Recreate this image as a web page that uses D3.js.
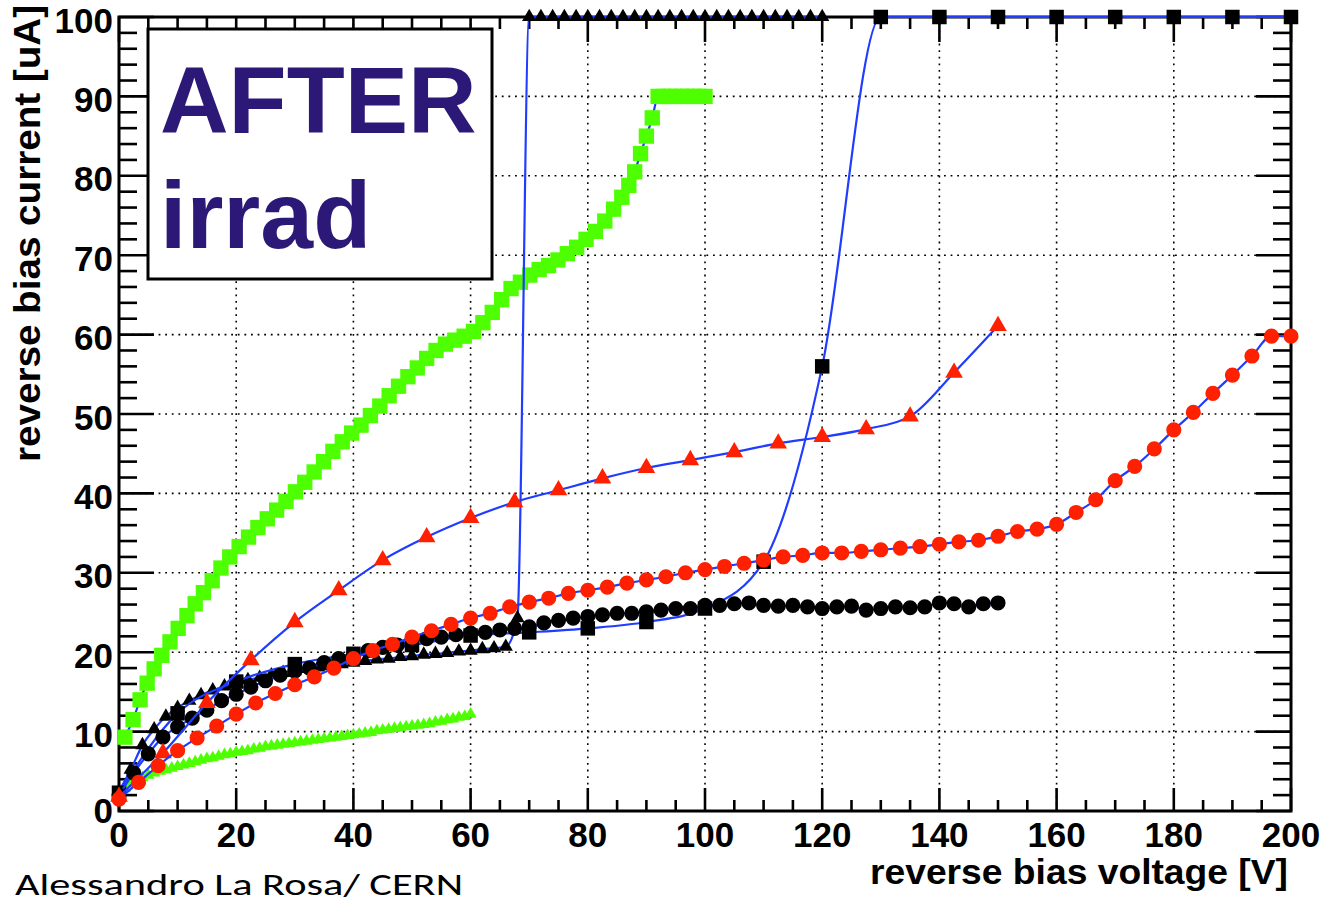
<!DOCTYPE html>
<html>
<head>
<meta charset="utf-8">
<script src="https://cdn.jsdelivr.net/npm/d3@7.9.0/dist/d3.min.js"></script>
<style>
  body { margin: 0; background: #fff; }
  svg { display: block; }
  text { font-family: 'Liberation Sans', Arial, Helvetica, sans-serif; }
</style>
</head>
<body>
<svg width="1335" height="902"></svg>
<script>
// tick labels
const xTickLabels = ['0', '20', '40', '60', '80', '100', '120', '140', '160', '180', '200'];
const yTickLabels = ['0', '10', '20', '30', '40', '50', '60', '70', '80', '90', '100'];

// green squares (with fit line)
const greenSqV = [1.0, 2.4, 3.6, 4.8, 6.0, 7.3, 8.7, 10.1, 11.6, 13.0, 14.4, 15.9, 17.4, 18.9, 20.5, 22.1, 23.7, 25.3, 26.9, 28.5,
  30.1, 31.7, 33.3, 34.9, 36.5, 38.1, 39.7, 41.3, 42.9, 44.5, 46.1, 47.7, 49.3, 50.9, 52.5, 54.1, 55.7, 57.3, 58.9, 60.5,
  62.1, 63.7, 65.3, 66.9, 68.5, 70.1, 71.7, 73.3, 74.9, 76.5, 78.1, 79.7, 81.3, 82.9, 84.4, 85.8, 87.0, 88.0, 89.0, 90.0,
  91.0, 92.0, 93.0, 94.0, 95.0, 96.0, 97.0, 98.0, 99.0, 100.0];
const greenSqI = [9.3, 11.5, 14.0, 16.1, 17.9, 19.6, 21.3, 23.0, 24.6, 26.1, 27.5, 29.0, 30.6, 32.0, 33.3, 34.5, 35.7, 36.8, 37.9, 39.0,
  40.2, 41.4, 42.7, 44.0, 45.3, 46.5, 47.6, 48.6, 49.8, 51.0, 52.3, 53.5, 54.7, 55.8, 57.0, 58.0, 58.8, 59.3, 59.8, 60.4,
  61.5, 62.8, 64.4, 65.8, 66.6, 67.5, 68.2, 68.7, 69.4, 70.2, 71.0, 72.0, 73.0, 74.3, 75.8, 77.3, 78.8, 80.5, 82.8, 85.0,
  87.3, 90, 90, 90, 90, 90, 90, 90, 90, 90];

// green triangles
const greenTriV = [0, 1, 2, 3, 4, 5, 6, 7, 8, 9, 10, 11, 12, 13, 14, 15, 16, 17, 18, 19, 20, 21, 22, 23, 24, 25, 26, 27, 28, 29, 30,
  31, 32, 33, 34, 35, 36, 37, 38, 39, 40, 41, 42, 43, 44, 45, 46, 47, 48, 49, 50, 51, 52, 53, 54, 55, 56, 57, 58, 59, 60];
const greenTriI = [2.2, 2.9, 3.4, 3.8, 4.2, 4.5, 4.8, 5.0, 5.2, 5.4, 5.6, 5.8, 6.0, 6.2, 6.4, 6.6, 6.7, 6.9, 7.1, 7.2, 7.4,
  7.5, 7.6, 7.8, 7.9, 8.1, 8.2, 8.3, 8.4, 8.5, 8.6, 8.7, 8.8, 8.9, 9.0, 9.1, 9.2, 9.3, 9.4, 9.5, 9.6,
  9.7, 9.8, 9.9, 10.1, 10.2, 10.3, 10.4, 10.5, 10.6, 10.7, 10.8, 10.9, 11.0, 11.2, 11.3, 11.5, 11.6, 11.8, 11.9, 12.2];

// black triangles
const blackTriV = [0, 2, 4, 6, 8, 10, 12, 14, 16, 18, 20, 22, 24, 26, 28, 30, 32, 34, 36, 38, 40, 42, 44, 46, 48, 50,
  52, 54, 56, 58, 60, 62, 64, 66, 68, 70, 72, 74, 76, 78, 80, 82, 84, 86, 88, 90, 92, 94, 96, 98, 100,
  102, 104, 106, 108, 110, 112, 114, 116, 118, 120];
const blackTriI = [2.5, 5.2, 8.3, 10.3, 11.9, 13.0, 13.9, 14.6, 15.2, 15.7, 16.1, 16.5, 16.8, 17.1, 17.4, 17.6, 17.9, 18.1, 18.3, 18.5, 18.7,
  18.9, 19.1, 19.2, 19.4, 19.5, 19.7, 19.8, 19.9, 20.1, 20.2, 20.4, 20.5, 20.7, 24.3,
  100, 100, 100, 100, 100, 100, 100, 100, 100, 100, 100, 100, 100, 100, 100, 100, 100, 100, 100, 100, 100, 100, 100, 100, 100, 100];

// black squares
const blackSqV = [0, 10, 20, 30, 40, 50, 60, 70, 80, 90, 100, 110, 120, 130, 140, 150, 160, 170, 180, 190, 200];
const blackSqI = [2.3, 12.3, 16.3, 18.5, 19.8, 20.9, 22.1, 22.5, 23.0, 23.8, 25.5, 31.4, 56.0, 100, 100, 100, 100, 100, 100, 100, 100];

// black circles
const blackCircV = [0, 2.5, 5, 7.5, 10, 12.5, 15, 17.5, 20, 22.5, 25, 27.5, 30, 32.5, 35, 37.5, 40, 42.5, 45, 47.5, 50,
  52.5, 55, 57.5, 60, 62.5, 65, 67.5, 70, 72.5, 75, 77.5, 80, 82.5, 85, 87.5, 90, 92.5, 95, 97.5, 100,
  102.5, 105, 107.5, 110, 112.5, 115, 117.5, 120, 122.5, 125, 127.5, 130, 132.5, 135, 137.5, 140, 142.5, 145, 147.5, 150];
const blackCircI = [2.0, 4.8, 7.2, 9.3, 10.6, 11.7, 12.7, 13.9, 14.7, 15.6, 16.4, 17.1, 17.6, 18.0, 18.7, 19.2, 19.6, 20.2, 20.6, 20.9, 21.4,
  21.7, 21.9, 22.2, 22.4, 22.5, 22.8, 23.0, 23.2, 23.7, 24.0, 24.3, 24.5, 24.7, 24.9, 24.9, 25.1, 25.3, 25.5, 25.5, 25.9,
  25.9, 26.1, 26.2, 25.9, 25.8, 25.9, 25.7, 25.5, 25.7, 25.8, 25.3, 25.5, 25.7, 25.6, 25.7, 26.2, 26.1, 25.7, 26.1, 26.2];

// red circles
const redCircV = [0, 3.33, 6.67, 10, 13.33, 16.67, 20, 23.33, 26.67, 30, 33.33, 36.67, 40, 43.33, 46.67, 50, 53.33, 56.67, 60,
  63.33, 66.67, 70, 73.33, 76.67, 80, 83.33, 86.67, 90, 93.33, 96.67, 100, 103.33, 106.67, 110, 113.33, 116.67, 120,
  123.33, 126.67, 130, 133.33, 136.67, 140, 143.33, 146.67, 150, 153.33, 156.67, 160, 163.33, 166.67, 170,
  173.33, 176.67, 180, 183.33, 186.67, 190, 193.33, 196.67, 200];
const redCircI = [1.5, 3.6, 5.7, 7.6, 9.2, 10.7, 12.2, 13.6, 14.8, 15.9, 16.9, 18.0, 19.2, 20.2, 21.0, 21.9, 22.7, 23.5, 24.3,
  24.9, 25.7, 26.3, 26.8, 27.4, 27.8, 28.2, 28.7, 29.1, 29.5, 30.0, 30.4, 30.8, 31.2, 31.6, 32.0, 32.2, 32.5,
  32.5, 32.7, 32.9, 33.1, 33.3, 33.6, 33.9, 34.1, 34.6, 35.2, 35.5, 36.1, 37.6, 39.2, 41.6,
  43.4, 45.6, 48.0, 50.2, 52.6, 54.9, 57.3, 59.8, 59.8];

// red triangles
const redTriV = [0, 7.5, 15, 22.5, 30, 37.5, 45, 52.5, 60, 67.5, 75, 82.5, 90, 97.5, 105, 112.5, 120, 127.5, 135, 142.5, 150];
const redTriI = [1.8, 7.3, 13.6, 19.0, 23.8, 27.8, 31.6, 34.5, 36.9, 38.9, 40.4, 41.9, 43.2, 44.2, 45.2, 46.3, 47.1, 48.1, 49.7, 55.2, 61.1];

const svg = d3.select('svg');

let x = d3.scaleLinear().domain([0, 200]).range([119, 1291]);
let y = d3.scaleLinear().domain([0, 100]).range([811, 17]);

// dotted grid
let grid = svg.append('g').attr('stroke', '#000').attr('stroke-width', 1.6).attr('stroke-dasharray', '1.8 4.8');
x.ticks(10).slice(1, -1).forEach((v) => {
  grid.append('line').attr('x1', x(v)).attr('x2', x(v)).attr('y1', y(0)).attr('y2', y(100));
});
y.ticks(10).slice(1, -1).forEach((v) => {
  grid.append('line').attr('x1', x(0)).attr('x2', x(200)).attr('y1', y(v)).attr('y2', y(v));
});

// ticks on all four sides
let ticks = svg.append('g').attr('stroke', '#000').attr('stroke-width', 2.6);
x.ticks(40).forEach((v) => {
  let major = v % 20 === 0;
  ticks.append('line').attr('x1', x(v)).attr('x2', x(v)).attr('y1', y(0)).attr('y2', y(0) - (major ? 23 : 11));
  ticks.append('line').attr('x1', x(v)).attr('x2', x(v)).attr('y1', y(100)).attr('y2', y(100) + (major ? 25 : 12));
});
y.ticks(50).forEach((v) => {
  let major = v % 10 === 0;
  ticks.append('line').attr('y1', y(v)).attr('y2', y(v)).attr('x1', x(0)).attr('x2', x(0) + (major ? 35 : 18));
  ticks.append('line').attr('y1', y(v)).attr('y2', y(v)).attr('x1', x(200)).attr('x2', x(200) - (major ? 35 : 18));
});

svg.append('rect')
  .attr('x', x(0)).attr('y', y(100))
  .attr('width', x(200) - x(0)).attr('height', y(0) - y(100))
  .attr('fill', 'none').attr('stroke', '#000').attr('stroke-width', 3);

// tick labels
x.ticks(10).forEach((v, i) => {
  svg.append('text').attr('x', x(v)).attr('y', 847)
    .attr('text-anchor', 'middle').attr('font-size', 35).attr('font-weight', 'bold')
    .text(xTickLabels[i]);
});
y.ticks(10).forEach((v, i) => {
  svg.append('text').attr('x', 113).attr('y', y(v) + (v === 0 ? 12 : 15.5))
    .attr('text-anchor', 'end').attr('font-size', 35).attr('font-weight', 'bold')
    .text(yTickLabels[i]);
});

// axis titles
svg.append('text').attr('x', 870).attr('y', 884)
  .attr('font-size', 35).attr('font-weight', 'bold')
  .attr('textLength', 418).attr('lengthAdjust', 'spacingAndGlyphs')
  .text('reverse bias voltage [V]');
svg.append('text').attr('transform', 'translate(40,462) rotate(-90)')
  .attr('font-size', 36).attr('font-weight', 'bold')
  .attr('textLength', 457).attr('lengthAdjust', 'spacingAndGlyphs')
  .text('reverse bias current [uA]');

let blue = '#1f3cff';
let lineGen = d3.line().x((d) => x(d[0])).y((d) => y(d[1])).curve(d3.curveMonotoneX);

function drawSeries(vs, is, shape, size, color, withLine) {
  let pts = vs.map((v, i) => [v, is[i]]);
  if (withLine) {
    svg.append('path').datum(pts).attr('d', lineGen)
      .attr('fill', 'none').attr('stroke', blue).attr('stroke-width', 2.2);
  }
  svg.append('g').selectAll('path').data(pts).join('path')
    .attr('transform', (d) => `translate(${x(d[0])},${y(d[1])})`)
    .attr('d', d3.symbol().type(shape).size(size))
    .attr('fill', color);
}

let green = '#4dff00';
let red = '#ff2000';

drawSeries(greenSqV, greenSqI, d3.symbolSquare, 235, green, true);
drawSeries(greenTriV, greenTriI, d3.symbolTriangle, 65, green, false);
drawSeries(blackTriV, blackTriI, d3.symbolTriangle, 88, '#000', true);
drawSeries(blackSqV, blackSqI, d3.symbolSquare, 210, '#000', true);
drawSeries(blackCircV, blackCircI, d3.symbolCircle, 180, '#000', true);
drawSeries(redTriV, redTriI, d3.symbolTriangle, 135, red, true);
drawSeries(redCircV, redCircI, d3.symbolCircle, 180, red, true);

// label box
svg.append('rect').attr('x', 148).attr('y', 29).attr('width', 344).attr('height', 250)
  .attr('fill', '#fff').attr('stroke', '#000').attr('stroke-width', 3);
svg.append('text').attr('x', 160).attr('y', 133)
  .attr('font-size', 95).attr('font-weight', 'bold').attr('fill', '#2c1877')
  .text('AFTER');
svg.append('text').attr('x', 160).attr('y', 248)
  .attr('font-size', 95).attr('font-weight', 'bold').attr('fill', '#2c1877')
  .text('irrad');

// footer (kept fully inside the page)
svg.append('text').attr('x', 15).attr('y', 895)
  .attr('font-size', 31).style('font-family', "Carlito, Calibri, 'Open Sans', sans-serif")
  .attr('textLength', 448).attr('lengthAdjust', 'spacingAndGlyphs')
  .text('Alessandro La Rosa/ CERN');
</script>
</body>
</html>
